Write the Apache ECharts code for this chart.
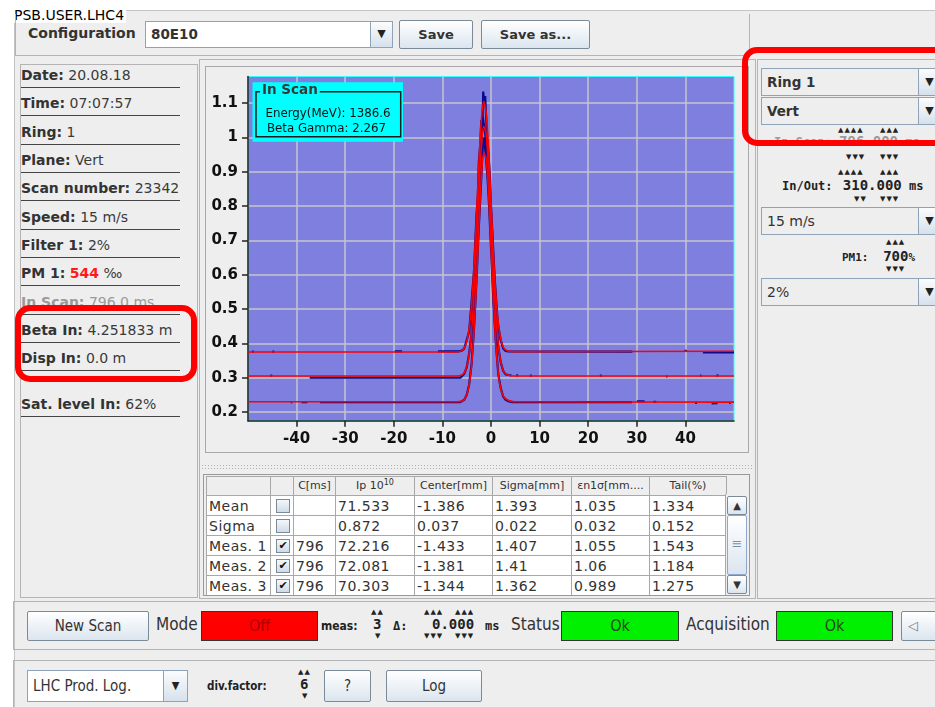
<!DOCTYPE html>
<html>
<head>
<meta charset="utf-8"/>
<title>PSB.USER.LHC4</title>
<script src="https://cdn.jsdelivr.net/npm/echarts@6.0.0/dist/echarts.min.js"></script>
<style>
  body{margin:0;width:935px;height:707px;overflow:hidden;background:#fff;position:relative;
       font-family:"DejaVu Sans",sans-serif;color:#333}
  .a{position:absolute;box-sizing:border-box;white-space:nowrap}
  .pane{position:absolute;box-sizing:border-box;border:1px solid #b4b4b4}
  .btn{position:absolute;box-sizing:border-box;border:1px solid #7a8a99;border-radius:2px;
       background:linear-gradient(#ffffff,#dbe5ef);font-weight:bold;font-size:13px;color:#333;text-align:center}
  .combo{position:absolute;box-sizing:border-box;border:1px solid #8fa3b8;background:#eee;
       font-weight:bold;font-size:13.5px;color:#333;padding-left:5px}
  .arr{position:absolute;top:-1px;right:-1px;bottom:-1px;width:23px;box-sizing:border-box;border:1px solid #8fa3b8;
       background:linear-gradient(#fbfcfd,#d6e1ec);font-size:11px;color:#222;text-align:center;font-weight:normal}
  .info{position:absolute;left:21px;width:159px;height:20px;font-size:14px;border-bottom:1px solid #444;color:#3a3a3a}
  .info b{color:#333}
  .mono{font-family:"DejaVu Sans Mono",monospace;font-weight:bold;color:#222}
  .tri{position:absolute;font-size:7px;letter-spacing:1px;color:#222;font-family:"DejaVu Sans"}
  .cond{font-family:"DejaVu Sans Condensed","DejaVu Sans",sans-serif}
  .red{position:absolute;box-sizing:border-box;border:6px solid #ff0000;border-radius:15px;z-index:20}
  table{border-collapse:collapse;table-layout:fixed;font-size:14px;letter-spacing:0.5px}
  td{border:1px solid #a8a8a8;height:19px;line-height:18px;padding:0 0 0 2px;overflow:hidden;color:#333}
  th{border:1px solid #a8a8a8;height:18px;line-height:12px;font-size:11px;font-weight:normal;background:#eee;color:#333;letter-spacing:0;
     padding:0;text-align:center}
  th sup{font-size:8px;line-height:0;vertical-align:4px}
  .cb{display:block;margin:0 auto;width:14px;height:14px;box-sizing:border-box;border:1px solid #7a8a99;
      background:linear-gradient(#f4f7fa,#cfdbe7);font-size:11px;line-height:12px;text-align:center;color:#111;letter-spacing:0}
</style>
</head>
<body>

<!-- window frame -->
<div class="a" style="left:14px;top:10px;width:921px;height:697px;background:#eee;border-left:1px solid #c4c4c4;border-top:1px solid #c4c4c4"></div>
<div class="a" style="left:12px;top:8px;padding:0 2px;background:#fff;font-size:14px;line-height:15px;color:#000">PSB.USER.LHC4</div>

<!-- configuration row -->
<div class="pane" style="left:15px;top:14px;width:735px;height:42px;border-top:none"></div>
<div class="a" style="left:28px;top:25px;font-size:14px;font-weight:bold;color:#333">Configuration</div>
<div class="combo" style="left:145px;top:21px;width:248px;height:27px;background:#fff;line-height:24px">80E10<div class="arr" style="line-height:24px">▼</div></div>
<div class="btn" style="left:399px;top:20px;width:74px;height:29px;line-height:27px">Save</div>
<div class="btn" style="left:481px;top:20px;width:109px;height:29px;line-height:27px">Save as...</div>

<!-- left info panel -->
<div class="pane" style="left:20px;top:64px;width:178px;height:534px"></div>
<div class="info" style="top:67px"><b>Date:</b> 20.08.18</div>
<div class="info" style="top:95px"><b>Time:</b> 07:07:57</div>
<div class="info" style="top:124px"><b>Ring:</b> 1</div>
<div class="info" style="top:152px"><b>Plane:</b> Vert</div>
<div class="info" style="top:180px"><b>Scan number:</b> 23342</div>
<div class="info" style="top:209px"><b>Speed:</b> 15 m/s</div>
<div class="info" style="top:237px"><b>Filter 1:</b> 2%</div>
<div class="info" style="top:265px"><b>PM 1:</b> <b style="color:#ff1a1a">544</b> ‰</div>
<div class="info" style="top:294px;color:#9a9a9a"><b style="color:#9a9a9a">In Scan:</b> 796.0 ms</div>
<div class="info" style="top:322px"><b>Beta In:</b> 4.251833 m</div>
<div class="info" style="top:350px"><b>Disp In:</b> 0.0 m</div>
<div class="info" style="top:396px"><b>Sat. level In:</b> 62%</div>

<!-- centre panel -->
<div class="pane" style="left:199px;top:59px;width:557px;height:540px"></div>
<div class="pane" style="left:205px;top:66px;width:544px;height:387px;border-color:#a8a8a8"></div>
<div id="main" class="a" style="left:205px;top:66px;width:544px;height:387px"></div>
<div class="a" style="left:201px;top:464px;width:553px;height:7px;background-image:radial-gradient(#b0b0b0 0.7px,transparent 0.8px);background-size:3px 3px"></div>

<div class="pane" style="left:203px;top:474px;width:547px;height:122px;border-color:#999;overflow:hidden">
  <table style="position:absolute;left:2px;top:1px;width:520px">
    <colgroup><col style="width:64px"><col style="width:23px"><col style="width:42px"><col style="width:79px"><col style="width:78px"><col style="width:79px"><col style="width:78px"><col style="width:77px"></colgroup>
    <tr><th></th><th></th><th>C[ms]</th><th>Ip 10<sup>10</sup></th><th>Center[mm]</th><th>Sigma[mm]</th><th>εn1σ[mm....</th><th>Tail(%)</th></tr>
    <tr style="background:#fff"><td>Mean</td><td><span class="cb"></span></td><td></td><td>71.533</td><td>-1.386</td><td>1.393</td><td>1.035</td><td>1.334</td></tr>
    <tr style="background:#fff"><td>Sigma</td><td><span class="cb"></span></td><td></td><td>0.872</td><td>0.037</td><td>0.022</td><td>0.032</td><td>0.152</td></tr>
    <tr style="background:#fff"><td>Meas. 1</td><td><span class="cb">✔</span></td><td>796</td><td>72.216</td><td>-1.433</td><td>1.407</td><td>1.055</td><td>1.543</td></tr>
    <tr style="background:#fff"><td>Meas. 2</td><td><span class="cb">✔</span></td><td>796</td><td>72.081</td><td>-1.381</td><td>1.41</td><td>1.06</td><td>1.184</td></tr>
    <tr style="background:#fff"><td>Meas. 3</td><td><span class="cb">✔</span></td><td>796</td><td>70.303</td><td>-1.344</td><td>1.362</td><td>0.989</td><td>1.275</td></tr>
  </table>
  <div class="a" style="left:521px;top:19px;width:24px;height:101px;background:#eee;border-left:1px solid #a8a8a8"></div>
  <div class="btn" style="left:523px;top:21px;width:20px;height:19px;font-size:10px;line-height:17px">▲</div>
  <div class="btn" style="left:523px;top:40px;width:20px;height:60px;line-height:56px;font-weight:normal;color:#7a8fb0;border-color:#8fa8cc">≡</div>
  <div class="btn" style="left:523px;top:100px;width:20px;height:19px;font-size:10px;line-height:17px">▼</div>
</div>

<!-- right panel -->
<div class="pane" style="left:757px;top:59px;width:190px;height:540px"></div>
<div class="combo" style="left:761px;top:68px;width:180px;height:28px;line-height:26px">Ring 1<div class="arr" style="line-height:26px">▼</div></div>
<div class="combo" style="left:761px;top:97px;width:180px;height:28px;line-height:26px">Vert<div class="arr" style="line-height:26px">▼</div></div>
<div class="tri" style="left:838px;top:126px">▲▲▲▲</div><div class="tri" style="left:880px;top:126px">▲▲▲</div>
<div class="a mono" style="left:774px;top:133px;font-size:12px;color:#9a9a9a">In Scan: <span style="font-size:14px;color:#9a9a9a">796.000</span> ms</div>
<div class="tri" style="left:846px;top:153px">▼▼▼</div><div class="tri" style="left:880px;top:153px">▼▼▼</div>
<div class="tri" style="left:838px;top:168px">▲▲▲▲</div><div class="tri" style="left:880px;top:168px">▲▲▲</div>
<div class="a mono" style="left:782px;top:177px;font-size:12px">In/Out: <span style="font-size:14px;margin-left:3px">310.000</span> ms</div>
<div class="tri" style="left:854px;top:195px">▼▼</div><div class="tri" style="left:880px;top:195px">▼▼▼</div>
<div class="combo" style="left:761px;top:207px;width:180px;height:28px;line-height:26px;font-weight:normal;font-size:14px">15 m/s<div class="arr" style="line-height:26px">▼</div></div>
<div class="tri" style="left:886px;top:238px">▲▲▲</div>
<div class="a mono" style="left:842px;top:248px;font-size:11px">PM1: <span style="font-size:14px;margin-left:8px">700</span>%</div>
<div class="tri" style="left:886px;top:265px">▼▼▼</div>
<div class="combo" style="left:761px;top:278px;width:180px;height:28px;line-height:26px;font-weight:normal;font-size:14px">2%<div class="arr" style="line-height:26px">▼</div></div>

<!-- bottom panel 1 -->
<div class="pane" style="left:13px;top:601px;width:930px;height:49px"></div>
<div class="btn cond" style="left:27px;top:611px;width:122px;height:30px;line-height:28px;font-weight:normal;font-size:15px">New Scan</div>
<div class="a cond" style="left:156px;top:614px;font-size:17px;color:#333">Mode</div>
<div class="a cond" style="left:201px;top:611px;width:117px;height:30px;background:#ff0000;border:1px solid #333;text-align:center;line-height:28px;font-size:16px;color:#b00000">Off</div>
<div class="a mono cond" style="left:321px;top:619px;font-size:12px">meas:</div>
<div class="tri" style="left:371px;top:608px">▲▲</div>
<div class="a mono" style="left:373px;top:616px;font-size:14px">3</div>
<div class="tri" style="left:375px;top:632px">▼</div>
<div class="a mono" style="left:393px;top:619px;font-size:12px">Δ:</div>
<div class="tri" style="left:424px;top:608px">▲▲▲</div><div class="tri" style="left:455px;top:608px">▲▲▲</div>
<div class="a mono" style="left:432px;top:616px;font-size:14px">0.000</div>
<div class="a mono" style="left:485px;top:619px;font-size:12px">ms</div>
<div class="tri" style="left:424px;top:632px">▼▼▼</div><div class="tri" style="left:455px;top:632px">▼▼▼</div>
<div class="a cond" style="left:511px;top:614px;font-size:17px;color:#333">Status</div>
<div class="a cond" style="left:561px;top:611px;width:118px;height:30px;background:#00f000;border:1px solid #333;text-align:center;line-height:28px;font-size:16px;color:#244a24">Ok</div>
<div class="a cond" style="left:686px;top:614px;font-size:17px;color:#333">Acquisition</div>
<div class="a cond" style="left:776px;top:611px;width:117px;height:30px;background:#00f000;border:1px solid #333;text-align:center;line-height:28px;font-size:16px;color:#244a24">Ok</div>
<div class="btn" style="left:901px;top:611px;width:40px;height:30px;line-height:28px;font-weight:normal;color:#777;text-align:left;padding-left:6px">◁</div>

<!-- bottom panel 2 -->
<div class="pane" style="left:13px;top:660px;width:930px;height:60px"></div>
<div class="combo cond" style="left:27px;top:670px;width:161px;height:32px;line-height:30px;background:#fff;font-weight:normal;font-size:15px">LHC Prod. Log.<div class="arr" style="width:25px;line-height:30px">▼</div></div>
<div class="a mono cond" style="left:207px;top:679px;font-size:11.5px">div.factor:</div>
<div class="tri" style="left:298px;top:668px">▲▲</div>
<div class="a mono" style="left:300px;top:676px;font-size:14px">6</div>
<div class="tri" style="left:302px;top:692px">▼</div>
<div class="btn cond" style="left:324px;top:670px;width:47px;height:32px;line-height:30px;font-weight:normal;font-size:15px">?</div>
<div class="btn cond" style="left:386px;top:670px;width:96px;height:32px;line-height:30px;font-weight:normal;font-size:15px">Log</div>

<!-- highlight rings -->
<div class="red" style="left:15px;top:305px;width:182px;height:77px"></div>
<div class="red" style="left:742px;top:47px;width:215px;height:99px"></div>

<script>
    // axis ranges
    let xMin = -50, xMax = 50;
    let yMin = 0.175, yMax = 1.177;

    // fitted profiles (red), shared x positions in mm
    let fitX = [-50, -8, -7, -6, -5.5, -5, -4.5, -4, -3.5, -3, -2.5, -2, -1.5, -1, -0.5, 0, 0.5, 1, 1.5, 2, 2.5, 3, 3.5, 4, 5, 50];
    let fit1 = [0.375, 0.375, 0.375, 0.379, 0.386, 0.405, 0.443, 0.514, 0.623, 0.768, 0.922, 1.048, 1.104, 1.072, 0.962, 0.812, 0.661, 0.540, 0.459, 0.413, 0.390, 0.381, 0.378, 0.377, 0.376, 0.377];
    let fit2 = [0.305, 0.305, 0.305, 0.308, 0.315, 0.332, 0.368, 0.435, 0.541, 0.682, 0.837, 0.968, 1.032, 1.009, 0.906, 0.757, 0.605, 0.481, 0.396, 0.346, 0.322, 0.312, 0.308, 0.306, 0.305, 0.305];
    let fit3 = [0.230, 0.230, 0.230, 0.232, 0.237, 0.250, 0.279, 0.338, 0.437, 0.577, 0.737, 0.879, 0.955, 0.938, 0.833, 0.679, 0.522, 0.396, 0.312, 0.268, 0.247, 0.239, 0.235, 0.232, 0.230, 0.229];

    // measured profiles (blue), null = gap in the scan
    let scan1X = [-49.2, -48.8, null, -45, -44.6, null, -19.8, -18.3, null, -10.9, -6.5, -6, -5.5, -5, -4.5, -4, -3.5, -3, -2.7, -2.5, -2.2, -2, -1.8, -1.6, -1.4, -1.2, -1, -0.8, -0.5, -0.2, 0, 0.3, 0.5, 0.8, 1, 1.3, 1.5, 2, 2.5, 3, 3.5, 3.8, 29.1, null, 39.8, 40.3, null, 43.6, 50];
    let scan1Y = [0.376, 0.376, null, 0.376, 0.376, null, 0.377, 0.377, null, 0.377, 0.377, 0.379, 0.385, 0.41, 0.435, 0.52, 0.61, 0.77, 0.83, 0.93, 0.98, 1.05, 1.02, 1.133, 1.1, 1.12, 1.06, 1.0, 0.95, 0.88, 0.80, 0.72, 0.66, 0.58, 0.54, 0.48, 0.45, 0.41, 0.385, 0.378, 0.377, 0.377, 0.376, null, 0.378, 0.378, null, 0.374, 0.374];
    let scan2X = [-45.4, -45, null, -37.3, -6.3, -5.5, -5, -4.5, -4, -3.5, -3, -2.5, -2.2, -2, -1.7, -1.4, -1.1, -0.8, -0.5, 0, 0.5, 1, 1.5, 2, 2.5, 3, 3.6, 4.2, null, 5.2, 5.6, null, 8, 8.4, null, 22.4, 22.8, null, 36, 36.3, null, 43, 43.3, null, 46.4, 46.8];
    let scan2Y = [0.306, 0.306, null, 0.300, 0.300, 0.312, 0.33, 0.37, 0.43, 0.55, 0.68, 0.84, 0.90, 0.97, 1.06, 1.03, 1.0, 0.96, 0.9, 0.76, 0.6, 0.48, 0.39, 0.345, 0.32, 0.31, 0.308, 0.307, null, 0.307, 0.307, null, 0.306, 0.306, null, 0.306, 0.306, null, 0.304, 0.304, null, 0.306, 0.306, null, 0.307, 0.306];
    let scan3X = [-41.2, -40.9, null, -39, -37.8, null, -35.2, -6.3, -5.5, -5, -4.5, -4, -3.5, -3, -2.5, -2, -1.7, -1.4, -1.1, -0.8, -0.5, 0, 0.5, 1, 1.5, 2, 2.5, 3, 3.5, 4.4, 29, null, 30, 31.6, null, 33.4, 34, null, 42, 42.4, null, 45.4, 46.6, null, 49, 49.3];
    let scan3Y = [0.229, 0.229, null, 0.229, 0.229, null, 0.229, 0.229, 0.236, 0.25, 0.28, 0.34, 0.44, 0.58, 0.74, 0.88, 0.97, 1.0, 0.95, 0.90, 0.83, 0.68, 0.52, 0.40, 0.31, 0.27, 0.245, 0.236, 0.232, 0.229, 0.229, null, 0.231, 0.231, null, 0.230, 0.230, null, 0.227, 0.227, null, 0.225, 0.226, null, 0.227, 0.227];

    function pairs(xs, ys) {
        let out = [];
        for (let i = 0; i < xs.length; i++) out.push([xs[i], ys[i]]);
        return out;
    }

    let blue = '#0a0a8c', red = '#ff0000';
    function scanSeries(xs, ys) {
        return {type: 'line', data: pairs(xs, ys), showSymbol: false, connectNulls: false,
            lineStyle: {color: blue, width: 2.2}, z: 2, silent: true};
    }
    function fitSeries(ys) {
        return {type: 'line', data: pairs(fitX, ys), showSymbol: false, smooth: 0.3,
            lineStyle: {color: red, width: 1.6}, z: 3, silent: true};
    }

    let labelFont = {fontFamily: 'DejaVu Sans', fontWeight: 'bold', fontSize: 15, color: '#111'};

    let myChart = echarts.init(document.getElementById('main'));
    let option = {
        animation: false,
        grid: {left: 43, top: 10.5, width: 486, height: 344.2, show: true,
            backgroundColor: '#7f7fe0', borderColor: '#33ffff', borderWidth: 1},
        xAxis: {
            type: 'value', min: xMin, max: xMax, interval: 10,
            axisLine: {onZero: false, lineStyle: {color: '#222', width: 1.5}},
            axisTick: {length: 6, lineStyle: {color: '#222', width: 1.5}},
            axisLabel: Object.assign({showMinLabel: false, showMaxLabel: false, margin: 11}, labelFont),
            splitLine: {show: true, showMinLine: false, showMaxLine: false, lineStyle: {color: '#c6c6cc', width: 1.5}}
        },
        yAxis: {
            type: 'value', min: yMin, max: yMax, splitNumber: 10,
            axisLine: {show: true, onZero: false, lineStyle: {color: '#222', width: 1.5}},
            axisTick: {show: true, length: 6, lineStyle: {color: '#222', width: 1.5}},
            axisLabel: Object.assign({showMinLabel: false, showMaxLabel: false, margin: 10}, labelFont),
            splitLine: {show: true, showMinLine: false, showMaxLine: false, lineStyle: {color: '#c6c6cc', width: 1.5}}
        },
        series: [
            scanSeries(scan1X, scan1Y),
            scanSeries(scan2X, scan2Y),
            scanSeries(scan3X, scan3Y),
            fitSeries(fit1),
            fitSeries(fit2),
            fitSeries(fit3)
        ],
        graphic: [
            {type: 'rect', shape: {x: 47.5, y: 16.3, width: 150.5, height: 59.4}, style: {fill: '#00ffff'}, z: 100},
            {type: 'rect', shape: {x: 51, y: 25.7, width: 144.7, height: 45}, style: {fill: 'none', stroke: '#1a1a1a', lineWidth: 1.5}, z: 101},
            {type: 'text', x: 55, y: 17, style: {text: 'In Scan', fill: '#383838', font: 'bold 13.5px "DejaVu Sans"',
                backgroundColor: '#00ffff', padding: [0, 2]}, z: 102},
            {type: 'text', x: 123, y: 47.5, style: {text: 'Energy(MeV): 1386.6', align: 'center', verticalAlign: 'middle',
                fill: '#111', font: '11.8px "DejaVu Sans"'}, z: 102},
            {type: 'text', x: 121.5, y: 62.5, style: {text: 'Beta Gamma: 2.267', align: 'center', verticalAlign: 'middle',
                fill: '#111', font: '11.8px "DejaVu Sans"'}, z: 102}
        ]
    };
    myChart.setOption(option);
</script>
</body>
</html>
